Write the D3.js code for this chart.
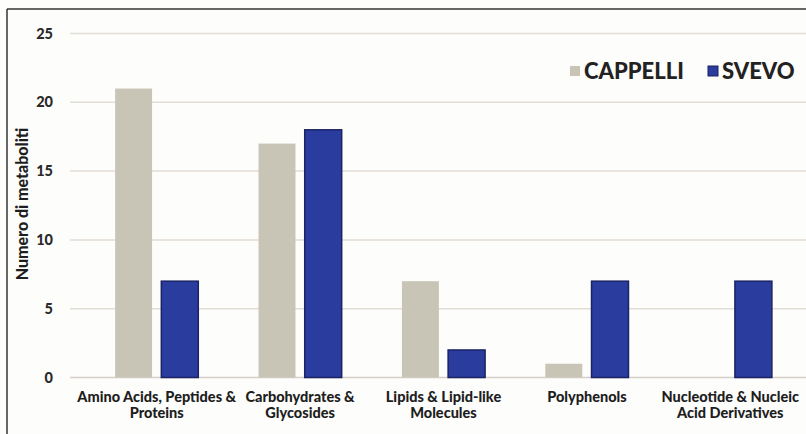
<!DOCTYPE html>
<html><head><meta charset="utf-8">
<script src="https://cdn.jsdelivr.net/npm/d3@7/dist/d3.min.js"></script>
<style>body{margin:0;background:#fff;}svg{display:block;font-family:Lato,"Open Sans",sans-serif;}</style>
</head><body>
<script>
const categories = [
  ["Amino Acids, Peptides &", "Proteins"],
  ["Carbohydrates &", "Glycosides"],
  ["Lipids & Lipid-like", "Molecules"],
  ["Polyphenols"],
  ["Nucleotide & Nucleic", "Acid Derivatives"]
];
const seriesNames = ["CAPPELLI", "SVEVO"];
const cappelli = [21, 17, 7, 1, 0];
const svevo = [7, 18, 2, 7, 7];
const yTicks = [0, 5, 10, 15, 20, 25];
const colors = {CAPPELLI: "#c9c5b6", SVEVO: "#2b3c9f"};

const W = 806, H = 434;
const svg = d3.select("body").append("svg").attr("width", W).attr("height", H);
svg.append("rect").attr("width", W).attr("height", H).attr("fill", "#fdfdfc");

const x0 = d3.scaleBand().domain(d3.range(categories.length)).range([85, 802]).paddingInner(0.42).paddingOuter(0.21);
const x1 = d3.scaleBand().domain(seriesNames).range([0, x0.bandwidth()]).paddingInner(0.2);
const y = d3.scaleLinear().domain([0, 25]).range([377.5, 33.5]);

// gridlines
svg.append("g").selectAll("line").data(yTicks).join("line")
  .attr("x1", 70).attr("x2", W)
  .attr("y1", d => y(d)).attr("y2", d => y(d))
  .attr("stroke", d => d === 0 ? "#d6d0c6" : "#e2ddd5").attr("stroke-width", 1.5);

// y tick labels
svg.append("g").selectAll("text").data(yTicks).join("text")
  .attr("x", 53).attr("y", d => y(d)).attr("dy", "0.35em")
  .attr("text-anchor", "end").attr("font-weight", 900).attr("font-size", 14.5)
  .attr("fill", "#2a2a2a").text(d => d);

// y title
svg.append("text").attr("transform", "translate(28,204) rotate(-90)")
  .attr("text-anchor", "middle").attr("font-weight", 900).attr("font-size", 16)
  .attr("fill", "#1e1e1e").text("Numero di metaboliti");

// bars
const rows = categories.map((c, i) => ({i, vals: [{k: "CAPPELLI", v: cappelli[i]}, {k: "SVEVO", v: svevo[i]}]}));
const g = svg.append("g").selectAll("g").data(rows).join("g")
  .attr("transform", d => `translate(${x0(d.i)},0)`);
g.selectAll("rect").data(d => d.vals.filter(e => e.v > 0)).join("rect")
  .attr("x", d => x1(d.k)).attr("width", x1.bandwidth())
  .attr("y", d => y(d.v)).attr("height", d => y(0) - y(d.v))
  .attr("fill", d => colors[d.k])
  .attr("stroke", d => d.k === "SVEVO" ? "#1a2363" : "none").attr("stroke-width", 1.5);

// x labels
const xl = svg.append("g").selectAll("text").data(categories.map((c, i) => ({c, i}))).join("text")
  .attr("x", d => x0(d.i) + x0.bandwidth() / 2).attr("y", 402)
  .attr("text-anchor", "middle").attr("font-weight", 900).attr("font-size", 14.5)
  .attr("fill", "#1e1e1e");
xl.selectAll("tspan").data(d => d.c.map(t => ({t, x: x0(d.i) + x0.bandwidth() / 2}))).join("tspan")
  .attr("x", d => d.x).attr("dy", (d, j) => j === 0 ? 0 : 16).text(d => d.t);

// legend
const leg = svg.append("g");
const legX = [570, 708];
seriesNames.forEach((s, j) => {
  leg.append("rect").attr("x", legX[j]).attr("y", 66).attr("width", 10).attr("height", 10)
    .attr("fill", colors[s]).attr("stroke", s === "SVEVO" ? "#1a2363" : "none");
  leg.append("text").attr("x", legX[j] + 14).attr("y", 79)
    .attr("font-weight", 900).attr("font-size", 22).attr("fill", "#222").text(s);
});

// frame (top and left)
svg.append("line").attr("x1", 7).attr("x2", W).attr("y1", 9).attr("y2", 9).attr("stroke", "#333").attr("stroke-width", 1.5);
svg.append("line").attr("x1", 7).attr("x2", 7).attr("y1", 9).attr("y2", H).attr("stroke", "#333").attr("stroke-width", 1.5);
</script>
</body></html>
